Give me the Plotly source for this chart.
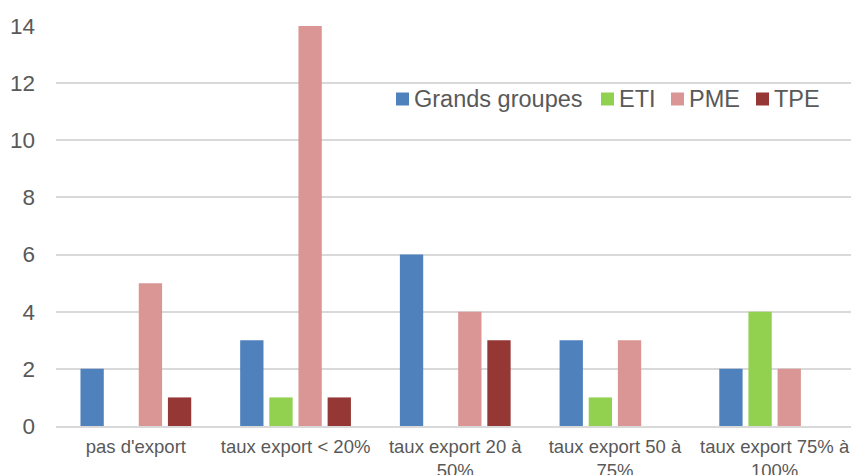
import plotly.graph_objects as go

categories = ["pas d'export", "taux export < 20%", "taux export 20 à<br>50%",
              "taux export 50 à<br>75%", "taux export 75% à<br>100%"]
grands_groupes = [2, 3, 6, 3, 2]
eti = [None, 1, None, 1, 4]
pme = [5, 14, 4, 3, 2]
tpe = [1, 1, 3, None, None]

series_names = ["Grands groupes", "ETI", "PME", "TPE"]
series_values = [grands_groupes, eti, pme, tpe]
series_colors = ["#4F81BD", "#92D050", "#D99694", "#953735"]

y_ticks = [0, 2, 4, 6, 8, 10, 12, 14]

W, H = 851, 475
L, R, T, B = 56, 0, 26, 49
PW, PH = W - L - R, H - T - B


def px_x(p):
    """screen x pixel -> paper coordinate"""
    return (p - L) / PW


def px_y(p):
    """screen y pixel -> paper coordinate"""
    return (H - B - p) / PH


fig = go.Figure()
for name, vals, col in zip(series_names, series_values, series_colors):
    fig.add_trace(go.Bar(x=categories, y=vals, name=name, marker_color=col,
                         marker_line_width=0, showlegend=False))

FONT = "Liberation Sans, Arial, sans-serif"
TXT = "#595959"

# legend box (white, hides gridlines) and legend entries
shapes = [dict(type="rect", xref="paper", yref="paper", x0=px_x(379), x1=px_x(828),
               y0=px_y(150), y1=px_y(66), fillcolor="white", line_width=0, layer="between")]
annotations = []
legend_symbol_x = [396, 601, 671, 756]
legend_cy = 99
for name, col, sx in zip(series_names, series_colors, legend_symbol_x):
    shapes.append(dict(type="rect", xref="paper", yref="paper",
                       x0=px_x(sx), x1=px_x(sx + 13),
                       y0=px_y(legend_cy + 6.5), y1=px_y(legend_cy - 6.5),
                       fillcolor=col, line_width=0, layer="above"))
    annotations.append(dict(text=name, xref="paper", yref="paper",
                            x=px_x(sx + 16), y=px_y(legend_cy), xanchor="left",
                            yanchor="middle", showarrow=False,
                            font=dict(size=23.5, color=TXT, family=FONT)))

fig.update_layout(
    width=W, height=H,
    margin=dict(l=L, r=R, t=T, b=B),
    paper_bgcolor="white", plot_bgcolor="white",
    barmode="group", bargap=0.27, bargroupgap=0.2,
    font=dict(family=FONT, color=TXT),
    showlegend=False,
    shapes=shapes,
    annotations=annotations,
)
# the original plot area runs slightly past the right edge of the window
fig.update_xaxes(range=[-0.5, 4.478], showgrid=False, showline=True, linecolor="#D9D9D9",
                 linewidth=1.5, tickfont=dict(size=18.5, color=TXT), ticks="",
                 automargin=False, ticklabelstandoff=3)
fig.update_yaxes(range=[0, 14], tickvals=y_ticks, showgrid=True, gridcolor="#D9D9D9",
                 gridwidth=1.5, zeroline=False, tickfont=dict(size=22.5, color=TXT),
                 ticklabelstandoff=20, automargin=False)

# remove the browser's default page margin so the figure fills the window exactly
fig.write_html("out.html", config={"displayModeBar": False},
               post_script="document.body.style.margin='0';document.body.style.overflow='hidden';")
